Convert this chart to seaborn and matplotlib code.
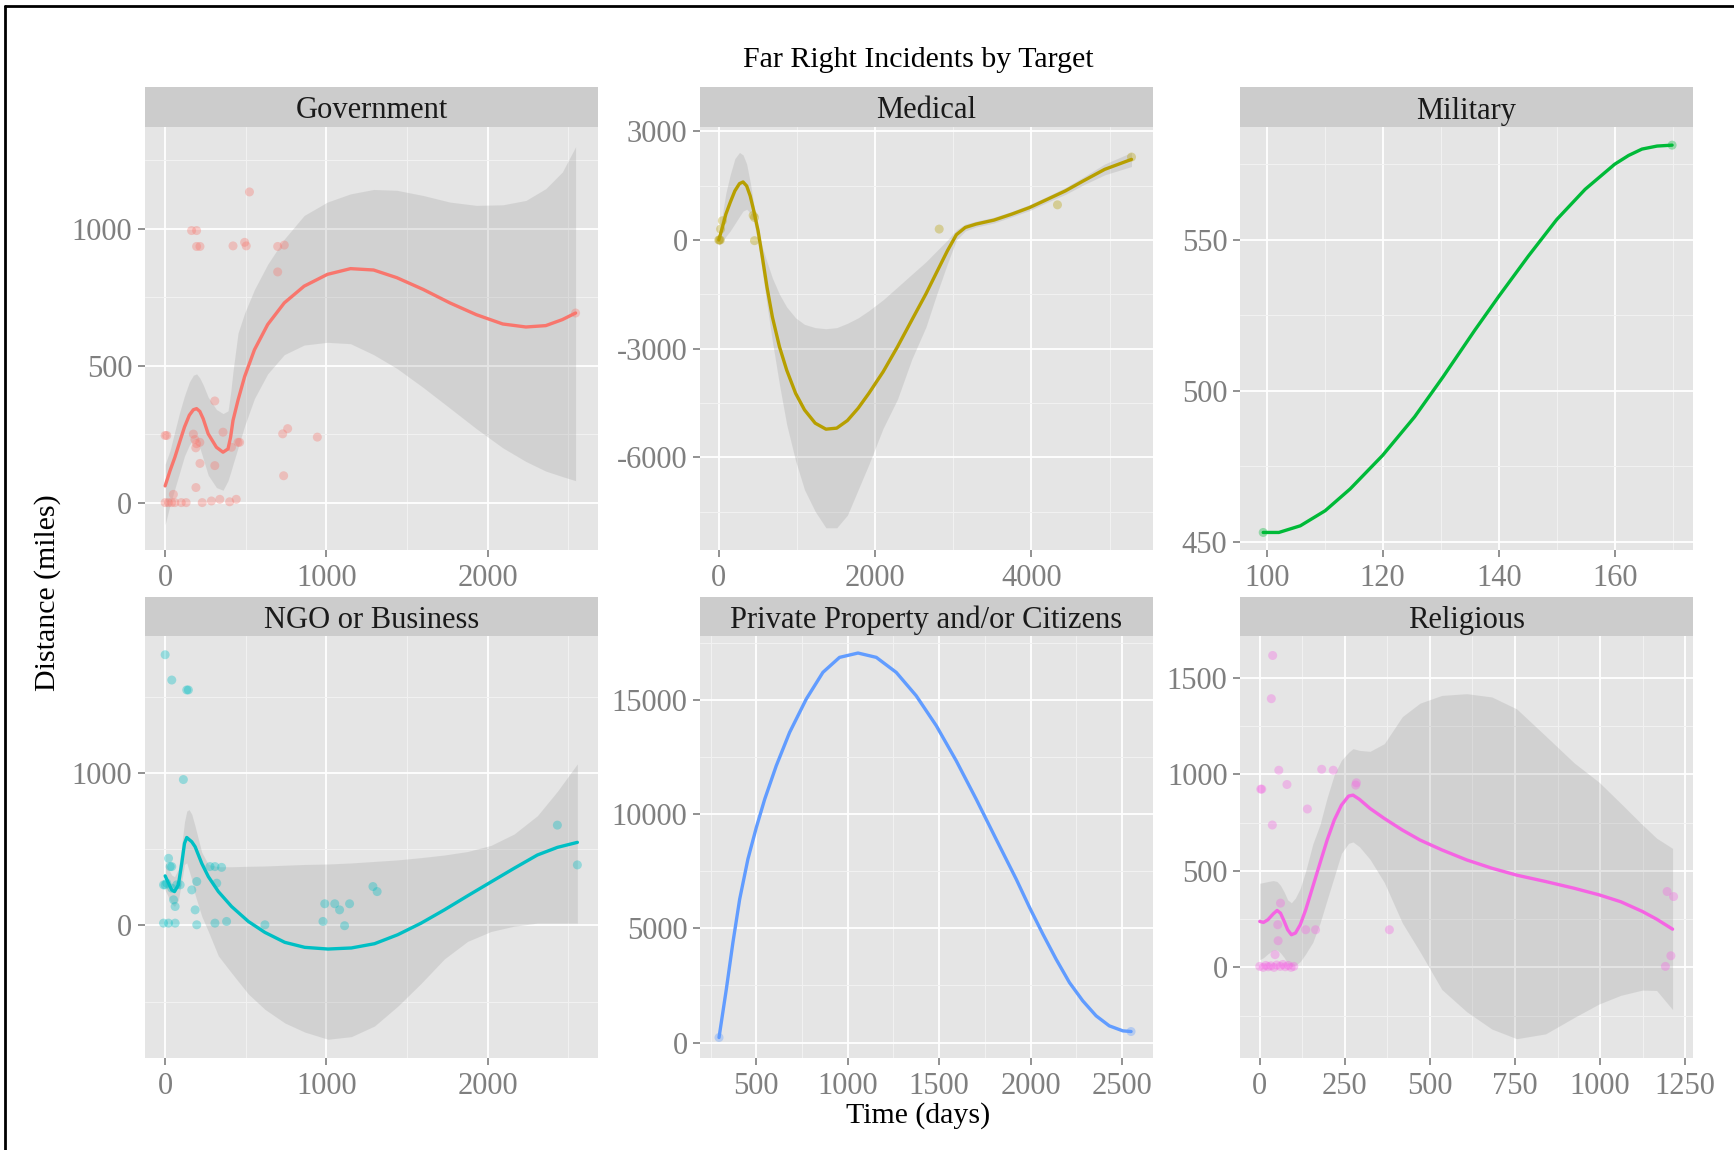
import matplotlib
matplotlib.use("Agg")
import matplotlib.pyplot as plt
import seaborn as sns
import pandas as pd
from matplotlib.ticker import MultipleLocator

sns.set_theme(style="darkgrid")
plt.rcParams['font.family'] = ['Liberation Serif', 'DejaVu Serif']
plt.rcParams['axes.unicode_minus'] = False

# ---------------- data ----------------
panels = ["Government", "Medical", "Military", "NGO or Business",
          "Private Property and/or Citizens", "Religious"]
colors = ["#F8766D", "#B79F00", "#00BA38", "#00BFC4", "#619CFF", "#F564E3"]

# Government
gov_px = [0, 10, 0, 20, 40, 60, 100, 130, 51, 164, 195, 195, 216, 421, 493, 503, 523, 698, 739, 698,
          308, 175, 185, 195, 190, 215, 359, 411, 452, 462, 729, 760, 944, 216, 308, 191, 735,
          230, 287, 339, 400, 441, 2546]
gov_py = [245, 245, 0, 0, 0, 0, 0, 0, 30, 993, 993, 935, 935, 937, 950, 937, 1134, 935, 940, 842,
          371, 250, 230, 215, 200, 220, 257, 202, 220, 220, 251, 270, 239, 143, 135, 55, 98,
          0, 6, 12, 3, 12, 692]
gov_cx = [0, 30, 60, 90, 120, 150, 175, 195, 215, 236, 267, 318, 359, 390, 406, 421, 452, 493,
          554, 636, 739, 862, 1006, 1150, 1293, 1437, 1601, 1766, 1930, 2094, 2238, 2361, 2464, 2546]
gov_cy = [61, 116, 165, 221, 276, 319, 339, 343, 333, 306, 251, 202, 184, 196, 239, 300, 374, 460,
          558, 650, 729, 790, 833, 854, 849, 821, 778, 729, 686, 652, 641, 646, 668, 692]
gov_hi = [140, 190, 260, 330, 390, 440, 465, 470, 455, 430, 385, 340, 325, 335, 400, 480, 619, 692,
          778, 870, 962, 1048, 1097, 1127, 1143, 1140, 1121, 1097, 1085, 1087, 1103, 1146, 1207, 1299]
gov_lo = [-80, -10, 50, 110, 170, 210, 230, 230, 200, 160, 100, 55, 45, 80, 110, 140, 200, 280,
          380, 470, 540, 575, 585, 580, 540, 490, 420, 345, 270, 200, 150, 115, 95, 80]

# Medical
med_px = [0, 10, 20, 23, 46, 457, 457, 440, 2820, 4333, 5280]
med_py = [0, 0, 0, 302, 532, 623, -18, 680, 302, 972, 2292]
med_cx = [0, 46, 91, 146, 206, 265, 311, 357, 402, 448, 503, 558, 617, 686, 777, 869, 983, 1097,
          1234, 1371, 1509, 1646, 1783, 1920, 2103, 2286, 2468, 2651, 2788, 2926, 3040, 3154, 3291,
          3520, 3748, 3977, 4206, 4434, 4663, 4937, 5280]
med_cy = [0, 348, 715, 1036, 1357, 1558, 1604, 1494, 1219, 807, 257, -477, -1302, -2127, -2951,
          -3593, -4235, -4693, -5060, -5225, -5197, -4986, -4647, -4235, -3639, -2951, -2218, -1485,
          -889, -293, 147, 348, 440, 550, 715, 898, 1127, 1357, 1632, 1952, 2227]
med_hi = [150, 700, 1300, 1800, 2250, 2420, 2350, 2100, 1600, 1000, 300, -200, -600, -1050, -1500,
          -1850, -2150, -2330, -2420, -2450, -2420, -2300, -2150, -1950, -1650, -1300, -950, -600,
          -300, 0, 280, 440, 520, 630, 790, 980, 1210, 1450, 1740, 2100, 2420]
med_lo = [-150, -50, 100, 250, 450, 650, 800, 850, 750, 500, -100, -900, -1800, -2800, -4000, -5100,
          -6100, -6900, -7500, -7950, -7950, -7600, -6900, -6200, -5200, -4400, -3300, -2400, -1500,
          -650, 0, 250, 360, 470, 640, 815, 1045, 1260, 1520, 1800, 2030]

# Military
mil_px = [99.4, 169.9]
mil_py = [453.2, 581.2]
mil_cx = [99.4, 102.1, 105.8, 110.1, 114.4, 120, 125.5, 130.4, 135.9, 140, 145.1, 150, 154.9,
          160, 162.4, 164.7, 167.3, 169.9]
mil_cy = [453.2, 453.2, 455.4, 460.4, 467.6, 478.7, 491.4, 504.6, 520.1, 531.2, 544.5, 556.6,
          566.6, 574.9, 577.8, 579.9, 580.9, 581.2]

# NGO or Business
ngo_px = [0, 41, 134, 144, 113, 21, 31, 41, -10, 0, 10, 41, 72, 93, 165, 196, 278, 309, 350, 320,
          52, 62, 186, -10, 21, 62, 196, 309, 381, 619, 990, 1052, 1082, 1144, 979, 1113,
          1289, 1315, 2433, 2557]
ngo_py = [1776, 1610, 1545, 1545, 957, 440, 386, 386, 266, 266, 277, 244, 266, 266, 233, 288,
          386, 386, 381, 277, 168, 124, 102, 15, 15, 15, 4, 15, 26, 4, 142, 142, 102, 142, 26,
          -2, 255, 222, 658, 397]
ngo_cx = [0, 21, 41, 58, 82, 103, 120, 134, 148, 165, 186, 227, 268, 330, 412, 516, 619, 742, 866,
          1010, 1155, 1299, 1443, 1588, 1732, 1876, 2021, 2165, 2309, 2433, 2557]
ngo_cy = [325, 277, 233, 222, 266, 407, 538, 577, 564, 549, 516, 407, 320, 222, 124, 26, -46, -111,
          -144, -155, -148, -120, -61, 15, 102, 194, 285, 375, 462, 512, 545]
ngo_hi = [420, 370, 330, 320, 370, 530, 680, 750, 760, 730, 650, 480, 400, 385, 385, 388, 390, 395,
          400, 403, 410, 420, 430, 445, 462, 485, 525, 600, 720, 880, 1060]
ngo_lo = [230, 185, 140, 125, 165, 290, 400, 410, 360, 300, 200, 60, -40, -200, -312, -450, -551,
          -640, -700, -747, -730, -660, -530, -380, -220, -105, -40, -5, 15, 15, 15]

# Private Property and/or Citizens
pri_px = [296, 2549]
pri_py = [219, 482]
pri_cx = [296, 336, 372, 409, 454, 500, 546, 609, 682, 773, 864, 955, 1056, 1156, 1265, 1374, 1484,
          1593, 1702, 1811, 1921, 1994, 2067, 2139, 2212, 2285, 2358, 2430, 2504, 2549]
pri_cy = [219, 2337, 4382, 6281, 8034, 9421, 10663, 12124, 13584, 15045, 16214, 16871, 17061,
          16871, 16214, 15191, 13877, 12343, 10663, 8910, 7157, 5916, 4747, 3652, 2629, 1826, 1169,
          730, 511, 482]

# Religious
rel_px = [3, 6, 38, 34, 56, 80, 37, 140, 182, 216, 284, 282, 61, 53, 54, 45, 135, 164, 381,
          0, 10, 18, 25, 33, 42, 50, 60, 68, 75, 84, 92, 100, 1197, 1216, 1208, 1192]
rel_py = [924, 924, 1617, 1393, 1022, 948, 738, 821, 1027, 1022, 957, 945, 333, 221, 138, 66,
          195, 195, 195, 5, 0, 10, 3, 8, 0, 12, 5, 15, 3, 10, 0, 5, 393, 367, 60, 5]
rel_cx = [0, 11, 24, 40, 51, 61, 72, 82, 93, 105, 119, 135, 156, 177, 198, 219, 240, 261, 274, 293,
          324, 366, 419, 471, 535, 608, 682, 755, 840, 924, 997, 1061, 1124, 1166, 1213]
rel_cy = [238, 233, 247, 278, 295, 281, 238, 195, 169, 178, 221, 298, 419, 540, 660, 764, 841, 888,
          893, 871, 824, 772, 712, 660, 609, 557, 514, 478, 445, 410, 376, 340, 290, 250, 198]
rel_hi = [436, 440, 445, 450, 445, 425, 390, 350, 335, 360, 410, 500, 640, 740, 880, 1000, 1074,
          1115, 1134, 1125, 1120, 1160, 1300, 1370, 1410, 1419, 1402, 1340, 1200, 1060, 960, 850,
          740, 670, 617]
rel_lo = [40, 50, 70, 90, 90, 75, 50, 20, 5, 10, 30, 70, 130, 229, 350, 470, 591, 643, 650, 625,
          560, 440, 230, 80, -115, -230, -320, -370, -345, -260, -190, -145, -118, -120, -219]

data = [
    (gov_px, gov_py, gov_cx, gov_cy, gov_lo, gov_hi),
    (med_px, med_py, med_cx, med_cy, med_lo, med_hi),
    (mil_px, mil_py, mil_cx, mil_cy, None, None),
    (ngo_px, ngo_py, ngo_cx, ngo_cy, ngo_lo, ngo_hi),
    (pri_px, pri_py, pri_cx, pri_cy, None, None),
    (rel_px, rel_py, rel_cx, rel_cy, rel_lo, rel_hi),
]

xlims = [(-125, 2685), (-240, 5555), (95.4, 173.5), (-125, 2685), (192, 2669), (-58, 1273)]
ylims = [(-173, 1371), (-8563, 3122), (447.4, 587.2), (-870, 1899), (-678, 17807), (-470, 1718)]
xmaj = [1000, 2000, 20, 1000, 500, 250]
ymaj = [500, 3000, 50, 1000, 5000, 500]

# ---------------- layout ----------------
W, H = 1734, 1150
fig = plt.figure(figsize=(W / 100, H / 100), dpi=100)
col_left = [145, 700, 1240]
pw = 453
rows = [(87, 127, 550), (597, 636, 1058)]

grey50 = "#7F7F7F"
for i in range(6):
    r, c = divmod(i, 3)
    st, pt, pb = rows[r]
    L = col_left[c]
    ax = fig.add_axes([L / W, 1 - pb / H, pw / W, (pb - pt) / H])
    sax = fig.add_axes([L / W, 1 - pt / H, pw / W, (pt - st) / H])
    sax.set_facecolor("#CCCCCC")
    sax.set_xticks([]); sax.set_yticks([])
    for s in sax.spines.values():
        s.set_visible(False)
    sax.text(0.5, 0.4, panels[i], ha="center", va="center", fontsize=22, color="#1A1A1A",
             transform=sax.transAxes)

    px, py, cx, cy, lo, hi = data[i]
    ax.set_facecolor("#E5E5E5")
    if lo is not None:
        ax.fill_between(cx, lo, hi, color="#999999", alpha=0.25, lw=0, zorder=2)
    pts = pd.DataFrame({"x": px, "y": py})
    sns.scatterplot(data=pts, x="x", y="y", ax=ax, color=colors[i], alpha=0.35, s=42,
                    edgecolor="none", zorder=3)
    cur = pd.DataFrame({"x": cx, "y": cy})
    sns.lineplot(data=cur, x="x", y="y", ax=ax, color=colors[i], lw=2.4, zorder=4,
                 sort=False, estimator=None)
    ax.set_xlim(*xlims[i]); ax.set_ylim(*ylims[i])
    ax.xaxis.set_major_locator(MultipleLocator(xmaj[i]))
    ax.xaxis.set_minor_locator(MultipleLocator(xmaj[i] / 2))
    ax.yaxis.set_major_locator(MultipleLocator(ymaj[i]))
    ax.yaxis.set_minor_locator(MultipleLocator(ymaj[i] / 2))
    ax.grid(True, which="major", color="white", lw=1.3, zorder=1)
    ax.grid(True, which="minor", color="#F2F2F2", lw=0.7, zorder=1)
    ax.set_axisbelow(True)
    for s in ax.spines.values():
        s.set_visible(False)
    ax.tick_params(axis="both", which="major", length=5, width=1.2, color=grey50,
                   labelcolor=grey50, labelsize=22, bottom=True, left=True)
    ax.tick_params(axis="x", which="major", pad=5)
    ax.tick_params(axis="y", which="major", pad=4)
    ax.tick_params(axis="both", which="minor", length=0)
    ax.set_xlabel(""); ax.set_ylabel("")

fig.text(918 / W, 1 - 60 / H, "Far Right Incidents by Target", ha="center", va="center",
         fontsize=21.5, color="black")
fig.text(918 / W, 1 - 1116 / H, "Time (days)", ha="center", va="center", fontsize=21.5,
         color="black")
fig.text(48 / W, 1 - 593 / H, "Distance (miles)", ha="center", va="center", fontsize=21.5,
         color="black", rotation=90)

# frame lines (top and left)
fig.add_artist(plt.Line2D([5 / W, 1], [1 - 6 / H, 1 - 6 / H], color="black", lw=2,
                          transform=fig.transFigure))
fig.add_artist(plt.Line2D([5 / W, 5 / W], [0, 1 - 6 / H], color="black", lw=2,
                          transform=fig.transFigure))

fig.savefig("out.png", dpi=100, facecolor="white")
